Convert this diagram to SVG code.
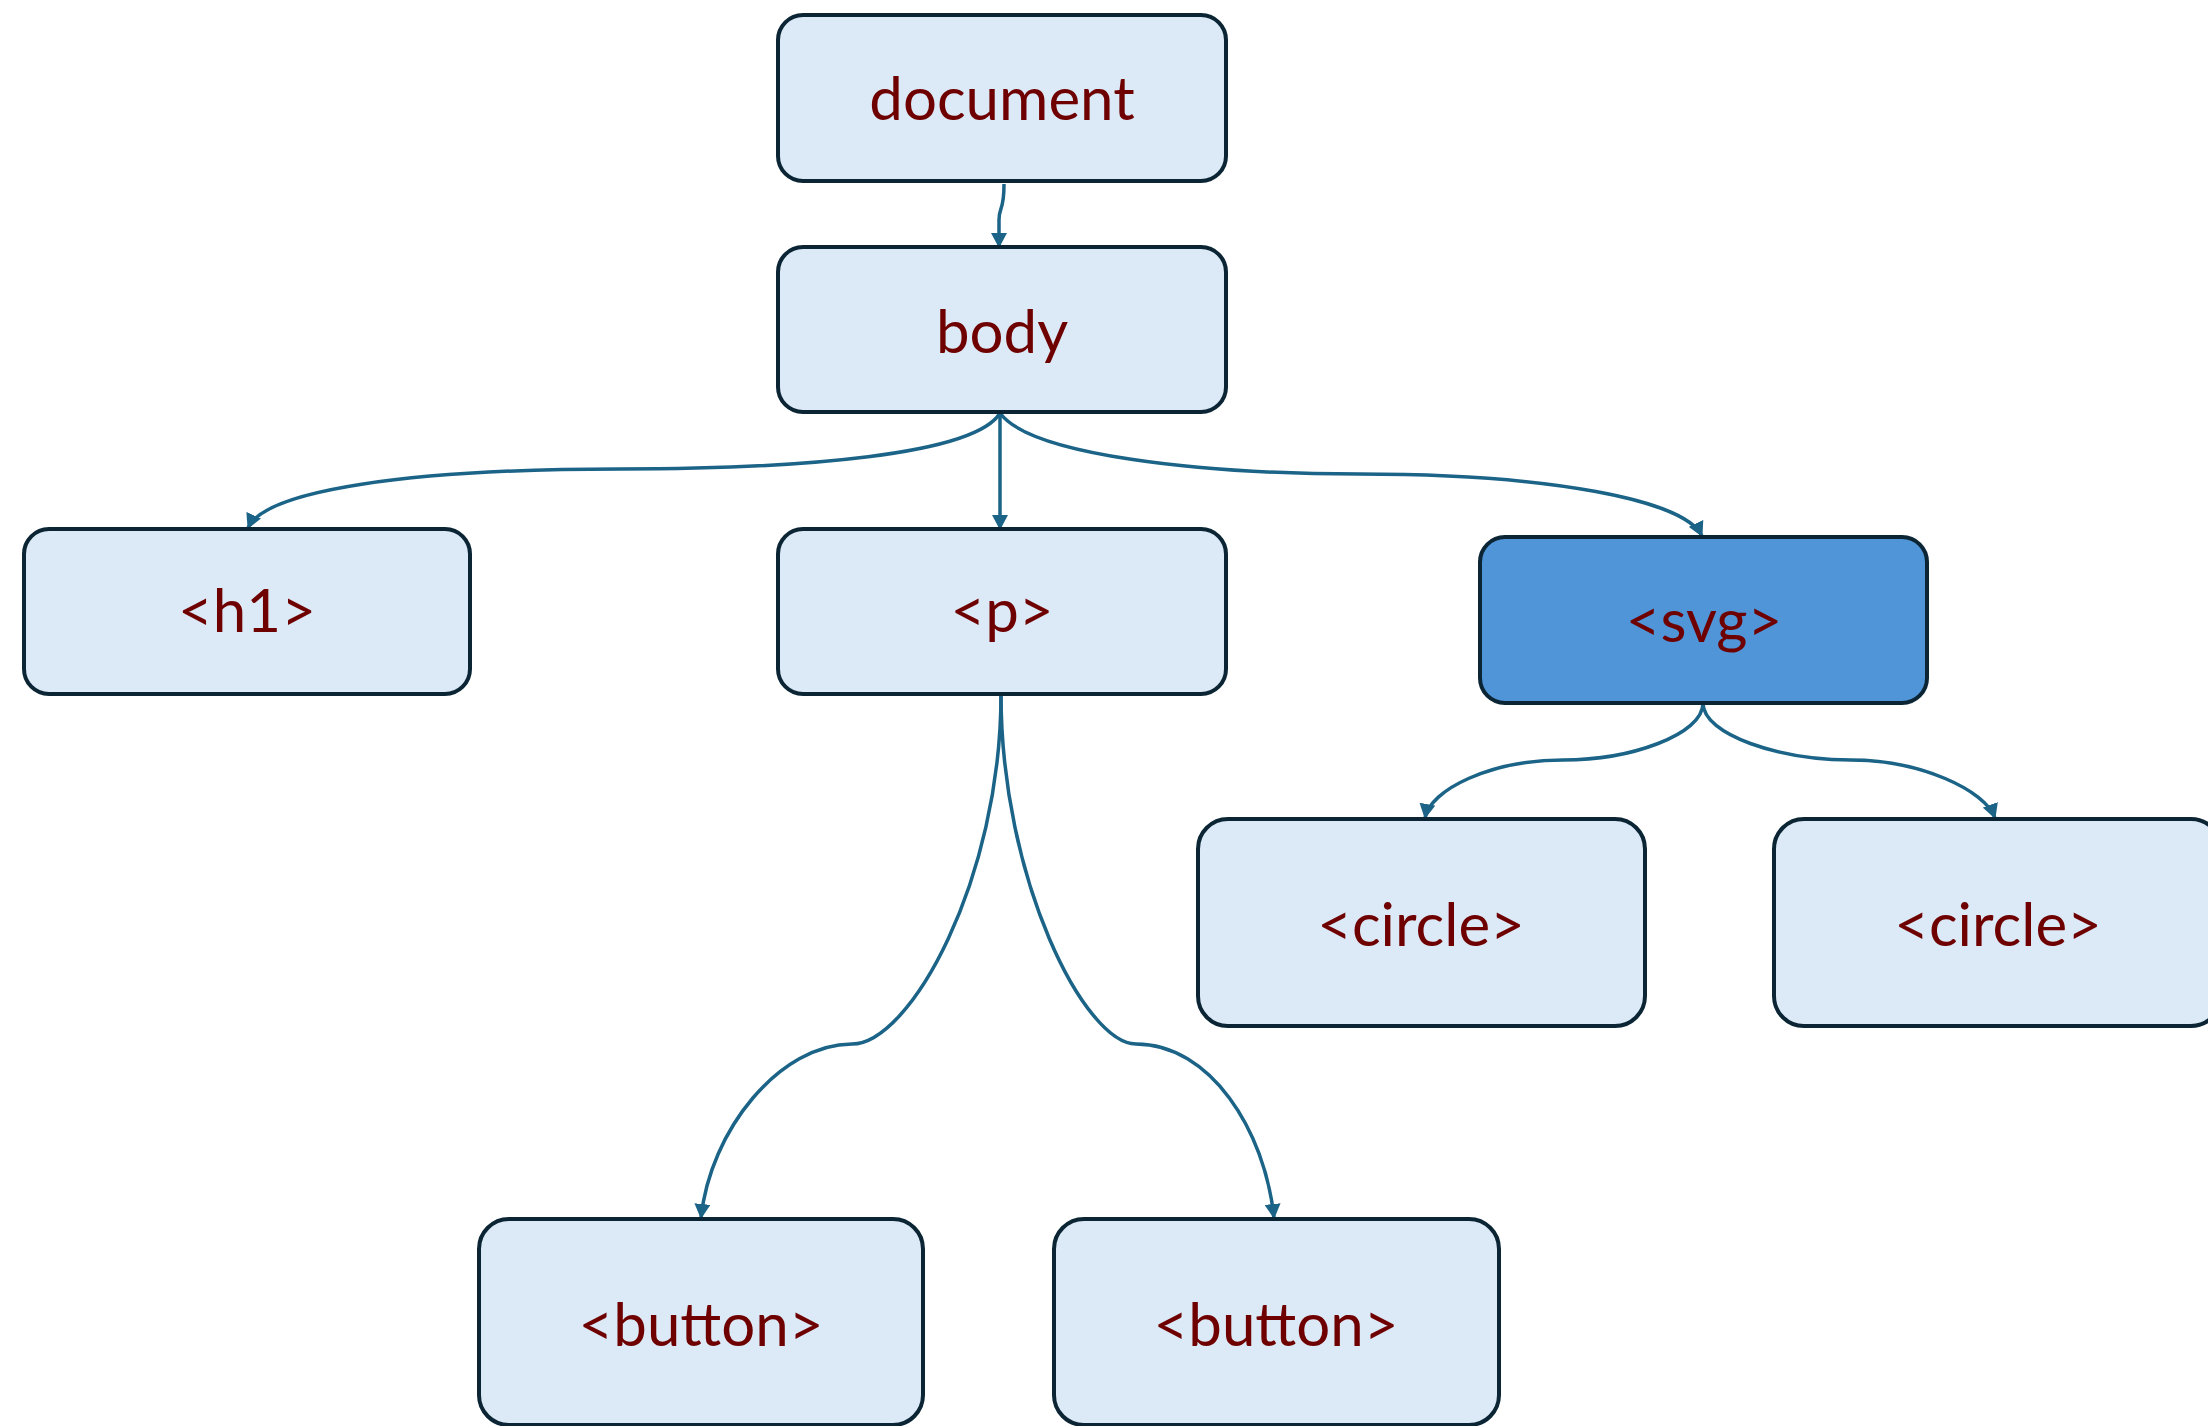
<svg xmlns="http://www.w3.org/2000/svg" width="2208" height="1426" viewBox="0 0 2208 1426">
<style>
.box{fill:#dce9f6;stroke:#0b2535;stroke-width:4}
.hl{fill:#4f95d8}
.lbl{font-family:Lato,"Open Sans","Liberation Sans",sans-serif;font-size:60px;fill:#6e0000;text-anchor:middle}
.edge{fill:none;stroke:#1b6387;stroke-width:3.5}
</style>
<defs>
<marker id="arr" viewBox="0 0 15 16" refX="14" refY="8" markerWidth="15" markerHeight="16" markerUnits="userSpaceOnUse" orient="auto">
<path d="M0,0 L15,8 L0,16 Z" fill="#1b6387"/>
</marker>
</defs>
<rect width="2208" height="1426" fill="#ffffff"/>
<g id="connectors">
<path class="edge" marker-end="url(#arr)" d="M1004,184 C1004,212 999,206 999,220 L999,247"/>
<path class="edge" marker-end="url(#arr)" d="M1000,413 C975,455 800,469 620,469 C410,469 265,490 248,528"/>
<path class="edge" marker-end="url(#arr)" d="M1000,413 L1000,529"/>
<path class="edge" marker-end="url(#arr)" d="M1000,413 C1030,455 1200,474 1359,474 C1550,474 1685,500 1702,536"/>
<path class="edge" marker-end="url(#arr)" d="M1001,694 C1001,880 910,1044 852,1044 C780,1044 710,1130 701,1218"/>
<path class="edge" marker-end="url(#arr)" d="M1001,694 C1001,880 1085,1044 1136,1044 C1210,1044 1265,1130 1274,1218"/>
<path class="edge" marker-end="url(#arr)" d="M1703,703 C1703,735 1630,760 1563,760 C1490,760 1430,790 1425,818"/>
<path class="edge" marker-end="url(#arr)" d="M1703,703 C1703,735 1780,760 1851,760 C1920,760 1985,790 1995,818"/>
</g>
<g id="node-document"><rect class="box" x="778" y="15" width="448" height="166" rx="25"/><text class="lbl" x="1002" y="120">document</text></g>
<g id="node-body"><rect class="box" x="778" y="247" width="448" height="165" rx="25"/><text class="lbl" x="1002" y="353">body</text></g>
<g id="node-h1"><rect class="box" x="24" y="529" width="446" height="165" rx="25"/><text class="lbl" x="247" y="632">&lt;h1&gt;</text></g>
<g id="node-p"><rect class="box" x="778" y="529" width="448" height="165" rx="25"/><text class="lbl" x="1002" y="632">&lt;p&gt;</text></g>
<g id="node-svg"><rect class="box hl" x="1480" y="537" width="447" height="166" rx="25"/><text class="lbl" x="1704" y="642">&lt;svg&gt;</text></g>
<g id="node-circle1"><rect class="box" x="1198" y="819" width="447" height="207" rx="30"/><text class="lbl" x="1421" y="946">&lt;circle&gt;</text></g>
<g id="node-circle2"><rect class="box" x="1774" y="819" width="447" height="207" rx="30"/><text class="lbl" x="1998" y="946">&lt;circle&gt;</text></g>
<g id="node-button1"><rect class="box" x="479" y="1219" width="444" height="206" rx="30"/><text class="lbl" x="701" y="1346">&lt;button&gt;</text></g>
<g id="node-button2"><rect class="box" x="1054" y="1219" width="445" height="206" rx="30"/><text class="lbl" x="1276" y="1346">&lt;button&gt;</text></g>
</svg>
